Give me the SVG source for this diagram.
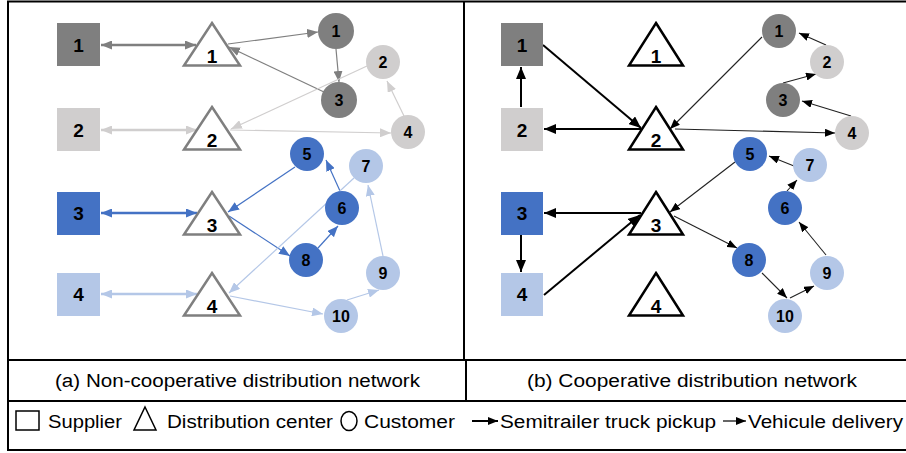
<svg xmlns="http://www.w3.org/2000/svg" width="906" height="453" viewBox="0 0 906 453">
<style>
.lbl{font-family:"Liberation Sans",Arial,sans-serif;font-weight:bold;text-anchor:middle;fill:#000}
.big{font-size:19px}
.sm{font-size:16px}
.ta{fill:#fff;stroke:#7f7f7f;stroke-width:2.5}
.tb{fill:#fff;stroke:#000;stroke-width:2.5}
.frame{stroke:#000;stroke-width:2;fill:none}
.txt{font-family:"Liberation Sans",Arial,sans-serif;font-size:18px;fill:#000}
.dg{fill:#7f7f7f}.lg{fill:#d0cece}.bl{fill:#4472c4}.lb{fill:#b4c7e7}
.e{fill:none}
.edg{stroke:#7f7f7f}.elg{stroke:#d0cece}.ebl{stroke:#4472c4}.elb{stroke:#b4c7e7}
.thk{stroke-width:2.5}.thn{stroke-width:1.2}
.bk2{stroke:#000;stroke-width:2}.bk1{stroke:#222;stroke-width:1.1}
</style>
<defs>
<marker id="mDG" markerUnits="userSpaceOnUse" markerWidth="11" markerHeight="9" refX="11" refY="4.5" orient="auto-start-reverse"><path d="M0,0 L11,4.5 L0,9 z" fill="#7f7f7f"/></marker>
<marker id="mLG" markerUnits="userSpaceOnUse" markerWidth="11" markerHeight="9" refX="11" refY="4.5" orient="auto-start-reverse"><path d="M0,0 L11,4.5 L0,9 z" fill="#d0cece"/></marker>
<marker id="mBL" markerUnits="userSpaceOnUse" markerWidth="11" markerHeight="9" refX="11" refY="4.5" orient="auto-start-reverse"><path d="M0,0 L11,4.5 L0,9 z" fill="#4472c4"/></marker>
<marker id="mLB" markerUnits="userSpaceOnUse" markerWidth="11" markerHeight="9" refX="11" refY="4.5" orient="auto-start-reverse"><path d="M0,0 L11,4.5 L0,9 z" fill="#b4c7e7"/></marker>
<marker id="mK" markerUnits="userSpaceOnUse" markerWidth="12" markerHeight="10" refX="12" refY="5" orient="auto"><path d="M0,0 L12,5 L0,10 z" fill="#000"/></marker>
<marker id="mk" markerUnits="userSpaceOnUse" markerWidth="10" markerHeight="8" refX="10" refY="4" orient="auto"><path d="M0,0 L10,4 L0,8 z" fill="#000"/></marker>
</defs>
<rect width="906" height="453" fill="#fff"/>
<g id="frame" class="frame">
<line x1="7" y1="1.5" x2="906" y2="1.5"/>
<line x1="8" y1="1" x2="8" y2="451"/>
<line x1="464" y1="1" x2="464" y2="360"/>
<line x1="466" y1="360" x2="466" y2="401"/>
<line x1="7" y1="360" x2="906" y2="360"/>
<line x1="7" y1="401" x2="906" y2="401"/>
<line x1="7" y1="450" x2="906" y2="450"/>
</g>
<g id="connectors">
<line class="e edg thk" x1="101" y1="45" x2="196" y2="45" marker-start="url(#mDG)" marker-end="url(#mDG)"/>
<line class="e edg thn" x1="228" y1="44" x2="318" y2="32" marker-end="url(#mDG)"/>
<line class="e edg thn" x1="324" y1="92" x2="229" y2="47" marker-end="url(#mDG)"/>
<line class="e edg thn" x1="336" y1="49" x2="339" y2="82" marker-end="url(#mDG)"/>
<line class="e elg thk" x1="101" y1="130" x2="197" y2="130" marker-start="url(#mLG)" marker-end="url(#mLG)"/>
<line class="e elg thn" x1="367" y1="66" x2="231" y2="129" marker-end="url(#mLG)"/>
<line class="e elg thn" x1="230" y1="130" x2="391" y2="133" marker-end="url(#mLG)"/>
<line class="e elg thn" x1="404" y1="116" x2="387" y2="81" marker-end="url(#mLG)"/>
<line class="e ebl thk" x1="101" y1="213" x2="197" y2="213" marker-start="url(#mBL)" marker-end="url(#mBL)"/>
<line class="e ebl thn" x1="295" y1="167" x2="228" y2="212" marker-end="url(#mBL)"/>
<line class="e ebl thn" x1="229" y1="216" x2="290" y2="256" marker-end="url(#mBL)"/>
<line class="e ebl thn" x1="318" y1="248" x2="338" y2="226" marker-end="url(#mBL)"/>
<line class="e ebl thn" x1="340" y1="191" x2="326" y2="160" marker-end="url(#mBL)"/>
<line class="e elb thk" x1="101" y1="294" x2="197" y2="294" marker-start="url(#mLB)" marker-end="url(#mLB)"/>
<line class="e elb thn" x1="354" y1="178" x2="229" y2="293" marker-end="url(#mLB)"/>
<line class="e elb thn" x1="230" y1="296" x2="323" y2="314" marker-end="url(#mLB)"/>
<line class="e elb thn" x1="347" y1="300" x2="379" y2="290" marker-end="url(#mLB)"/>
<line class="e elb thn" x1="383" y1="256" x2="368" y2="185" marker-end="url(#mLB)"/>
<line class="e bk2" x1="521" y1="107" x2="521" y2="67" marker-end="url(#mK)"/>
<line class="e bk2" x1="543" y1="45" x2="641" y2="128" marker-end="url(#mK)"/>
<line class="e bk2" x1="641" y1="129" x2="544" y2="129" marker-end="url(#mK)"/>
<line class="e bk1" x1="762" y1="37" x2="670" y2="129" marker-end="url(#mk)"/>
<line class="e bk1" x1="675" y1="129" x2="835" y2="133" marker-end="url(#mk)"/>
<line class="e bk1" x1="826" y1="45" x2="799" y2="33" marker-end="url(#mk)"/>
<line class="e bk1" x1="783" y1="83" x2="816" y2="74" marker-end="url(#mk)"/>
<line class="e bk1" x1="851" y1="116" x2="802" y2="101" marker-end="url(#mk)"/>
<line class="e bk1" x1="794" y1="166" x2="769" y2="156" marker-end="url(#mk)"/>
<line class="e bk1" x1="735" y1="162" x2="670" y2="212" marker-end="url(#mk)"/>
<line class="e bk2" x1="641" y1="213" x2="544" y2="213" marker-end="url(#mK)"/>
<line class="e bk2" x1="521" y1="235" x2="521" y2="272" marker-end="url(#mK)"/>
<line class="e bk2" x1="544" y1="295" x2="640" y2="215" marker-end="url(#mK)"/>
<line class="e bk1" x1="674" y1="216" x2="737" y2="248" marker-end="url(#mk)"/>
<line class="e bk1" x1="762" y1="273" x2="787" y2="298" marker-end="url(#mk)"/>
<line class="e bk1" x1="790" y1="298" x2="814" y2="286" marker-end="url(#mk)"/>
<line class="e bk1" x1="826" y1="255" x2="799" y2="222" marker-end="url(#mk)"/>
<line class="e bk1" x1="787" y1="191" x2="797" y2="180" marker-end="url(#mk)"/>
</g>
<g id="a-supplier-1"><rect class="dg" x="57" y="23" width="43" height="43"/><text class="lbl big" x="78.5" y="52">1</text></g>
<g id="a-supplier-2"><rect class="lg" x="57" y="108" width="43" height="43"/><text class="lbl big" x="78.5" y="137">2</text></g>
<g id="a-supplier-3"><rect class="bl" x="57" y="192" width="43" height="43"/><text class="lbl big" x="78.5" y="220">3</text></g>
<g id="a-supplier-4"><rect class="lb" x="57" y="273" width="43" height="43"/><text class="lbl big" x="78.5" y="301">4</text></g>
<g id="a-dc-1"><path class="ta" d="M212,23 L240,65.5 L184,65.5 Z"/><text class="lbl big" x="212" y="63">1</text></g>
<g id="a-dc-2"><path class="ta" d="M212,107 L240,149.5 L184,149.5 Z"/><text class="lbl big" x="212" y="147">2</text></g>
<g id="a-dc-3"><path class="ta" d="M212,192 L240,234.5 L184,234.5 Z"/><text class="lbl big" x="212" y="232">3</text></g>
<g id="a-dc-4"><path class="ta" d="M212,273 L240,315.5 L184,315.5 Z"/><text class="lbl big" x="212" y="313">4</text></g>
<g id="a-cust-1"><circle class="dg" cx="336" cy="31" r="18"/><text class="lbl sm" x="336" y="37">1</text></g>
<g id="a-cust-2"><circle class="lg" cx="383" cy="62" r="17"/><text class="lbl sm" x="383" y="68">2</text></g>
<g id="a-cust-3"><circle class="dg" cx="339" cy="100" r="18"/><text class="lbl sm" x="339" y="106">3</text></g>
<g id="a-cust-4"><circle class="lg" cx="408" cy="132" r="17"/><text class="lbl sm" x="408" y="138">4</text></g>
<g id="a-cust-5"><circle class="bl" cx="307" cy="154" r="17"/><text class="lbl sm" x="307" y="160">5</text></g>
<g id="a-cust-6"><circle class="bl" cx="342" cy="208" r="17"/><text class="lbl sm" x="342" y="214">6</text></g>
<g id="a-cust-7"><circle class="lb" cx="366" cy="166" r="17"/><text class="lbl sm" x="366" y="172">7</text></g>
<g id="a-cust-8"><circle class="bl" cx="306" cy="260" r="17"/><text class="lbl sm" x="306" y="266">8</text></g>
<g id="a-cust-9"><circle class="lb" cx="383" cy="273" r="17"/><text class="lbl sm" x="383" y="279">9</text></g>
<g id="a-cust-10"><circle class="lb" cx="341" cy="316" r="17"/><text class="lbl sm" x="341" y="322">10</text></g>
<g id="b-supplier-1"><rect class="dg" x="501" y="23" width="42" height="43"/><text class="lbl big" x="522" y="52">1</text></g>
<g id="b-supplier-2"><rect class="lg" x="501" y="108" width="42" height="43"/><text class="lbl big" x="522" y="137">2</text></g>
<g id="b-supplier-3"><rect class="bl" x="501" y="192" width="42" height="43"/><text class="lbl big" x="522" y="220">3</text></g>
<g id="b-supplier-4"><rect class="lb" x="501" y="273" width="42" height="43"/><text class="lbl big" x="522" y="301">4</text></g>
<g id="b-dc-1"><path class="tb" d="M656,23 L683,65.5 L629,65.5 Z"/><text class="lbl big" x="656" y="63">1</text></g>
<g id="b-dc-2"><path class="tb" d="M656,107 L683,149.5 L629,149.5 Z"/><text class="lbl big" x="656" y="147">2</text></g>
<g id="b-dc-3"><path class="tb" d="M656,192 L683,234.5 L629,234.5 Z"/><text class="lbl big" x="656" y="232">3</text></g>
<g id="b-dc-4"><path class="tb" d="M656,273 L683,315.5 L629,315.5 Z"/><text class="lbl big" x="656" y="313">4</text></g>
<g id="b-cust-1"><circle class="dg" cx="779" cy="31" r="17"/><text class="lbl sm" x="779" y="37">1</text></g>
<g id="b-cust-2"><circle class="lg" cx="827" cy="62" r="17"/><text class="lbl sm" x="827" y="68">2</text></g>
<g id="b-cust-3"><circle class="dg" cx="783" cy="100" r="17"/><text class="lbl sm" x="783" y="106">3</text></g>
<g id="b-cust-4"><circle class="lg" cx="852" cy="133" r="17"/><text class="lbl sm" x="852" y="139">4</text></g>
<g id="b-cust-5"><circle class="bl" cx="750" cy="154" r="17"/><text class="lbl sm" x="750" y="160">5</text></g>
<g id="b-cust-6"><circle class="bl" cx="785" cy="208" r="17"/><text class="lbl sm" x="785" y="214">6</text></g>
<g id="b-cust-7"><circle class="lb" cx="810" cy="165" r="17"/><text class="lbl sm" x="810" y="171">7</text></g>
<g id="b-cust-8"><circle class="bl" cx="749" cy="260" r="17"/><text class="lbl sm" x="749" y="266">8</text></g>
<g id="b-cust-9"><circle class="lb" cx="827" cy="273" r="17"/><text class="lbl sm" x="827" y="279">9</text></g>
<g id="b-cust-10"><circle class="lb" cx="785" cy="316" r="17"/><text class="lbl sm" x="785" y="322">10</text></g>
<g id="captions">
<text class="txt" x="55" y="387" textLength="365" lengthAdjust="spacingAndGlyphs">(a) Non-cooperative distribution network</text>
<text class="txt" x="527" y="387" textLength="330" lengthAdjust="spacingAndGlyphs">(b) Cooperative distribution network</text>
</g>
<g id="legend">
<rect x="16" y="411" width="23" height="19" fill="none" stroke="#000" stroke-width="1.5"/>
<text class="txt" x="48" y="428" textLength="74" lengthAdjust="spacingAndGlyphs">Supplier</text>
<path d="M145,407 L156,430 L134,430 Z" fill="none" stroke="#000" stroke-width="1.5"/>
<text class="txt" x="167" y="428" textLength="166" lengthAdjust="spacingAndGlyphs">Distribution center</text>
<ellipse cx="349" cy="421" rx="8" ry="9.5" fill="none" stroke="#000" stroke-width="1.5"/>
<text class="txt" x="364" y="428" textLength="91" lengthAdjust="spacingAndGlyphs">Customer</text>
<line x1="472" y1="421" x2="498" y2="421" stroke="#000" stroke-width="2" marker-end="url(#mk)"/>
<text class="txt" x="500" y="428" textLength="216" lengthAdjust="spacingAndGlyphs">Semitrailer truck pickup</text>
<line x1="723" y1="421" x2="746" y2="421" stroke="#000" stroke-width="1.2" marker-end="url(#mk)"/>
<text class="txt" x="748" y="428" textLength="155" lengthAdjust="spacingAndGlyphs">Vehicule delivery</text>
</g>
</svg>
